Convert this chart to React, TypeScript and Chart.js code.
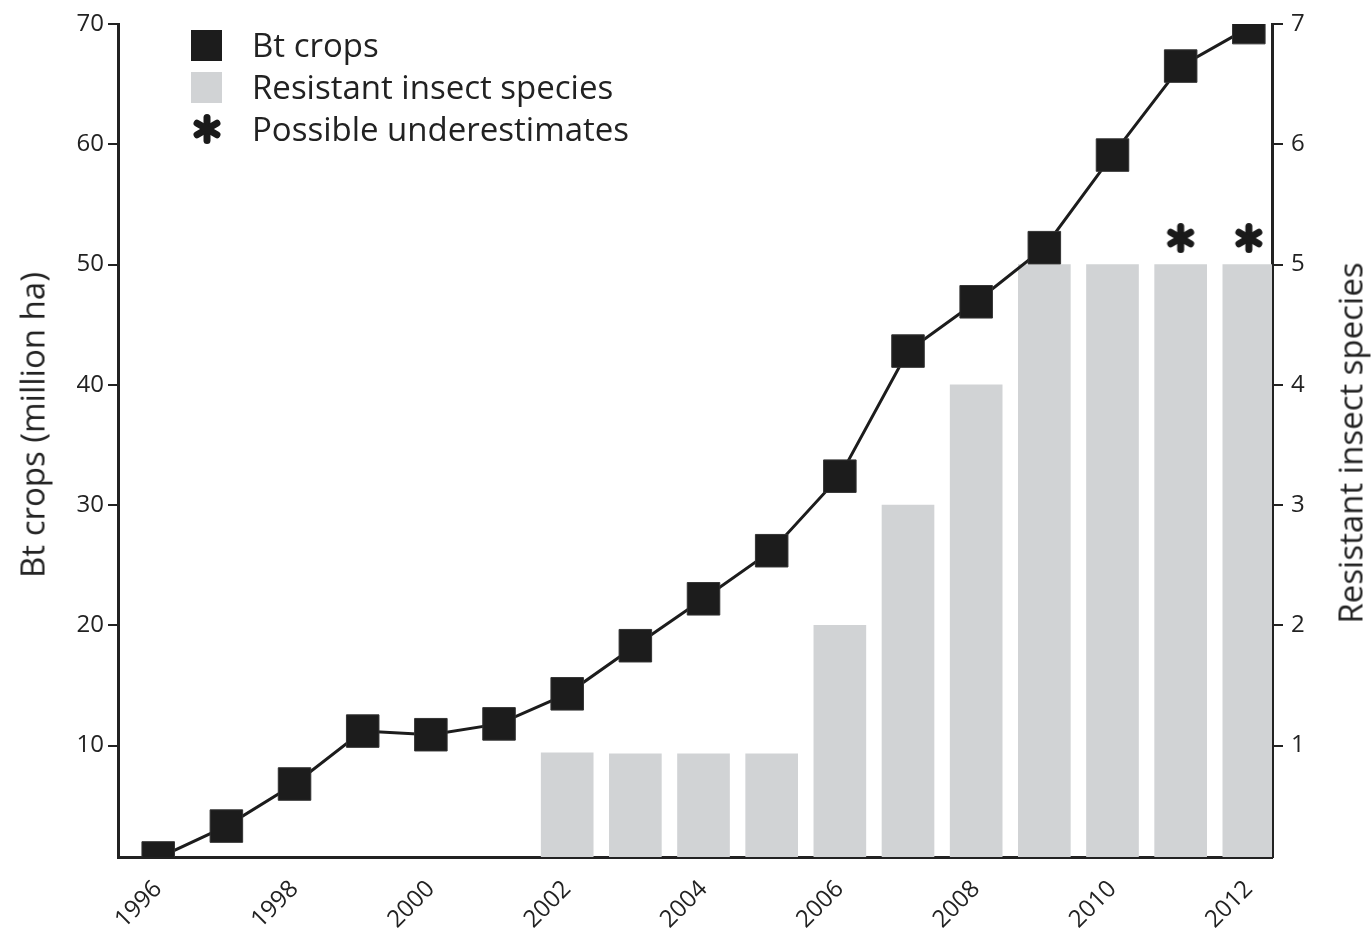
import React, { useEffect, useRef } from "react";
import { Chart, registerables } from "chart.js";

Chart.register(...registerables);

const years = [1996, 1997, 1998, 1999, 2000, 2001, 2002, 2003, 2004, 2005, 2006, 2007, 2008, 2009, 2010, 2011, 2012];
const btCrops = [0.65, 3.3, 6.8, 11.2, 10.9, 11.8, 14.3, 18.3, 22.2, 26.2, 32.4, 42.8, 46.9, 51.4, 59.1, 66.5, 69.7];
const resistantYears = [2002, 2003, 2004, 2005, 2006, 2007, 2008, 2009, 2010, 2011, 2012];
const resistantSpecies = [0.94, 0.93, 0.93, 0.93, 2, 3, 4, 5, 5, 5, 5];
const underestimateYears = [2011, 2012];
const underestimateLevel = [5.22, 5.22];
const xTickLabels = [1996, 1998, 2000, 2002, 2004, 2006, 2008, 2010, 2012];
const leftTickValues = [10, 20, 30, 40, 50, 60, 70];
const rightTickValues = [1, 2, 3, 4, 5, 6, 7];

const FONT = "'Open Sans', 'DejaVu Sans', sans-serif";
const INK = "#222222";
const BAR = "#d1d3d5";

function makeAsterisk(size: number, lw: number): HTMLCanvasElement {
  const c = document.createElement("canvas");
  c.width = size;
  c.height = size;
  const ctx = c.getContext("2d")!;
  ctx.strokeStyle = "#1a1a1a";
  ctx.lineWidth = lw;
  ctx.lineCap = "round";
  const r = size / 2 - lw / 2;
  const cx = size / 2;
  const cy = size / 2;
  for (let i = 0; i < 3; i++) {
    const a = Math.PI / 2 + (i * Math.PI) / 3;
    ctx.beginPath();
    ctx.moveTo(cx - r * Math.cos(a), cy - r * Math.sin(a));
    ctx.lineTo(cx + r * Math.cos(a), cy + r * Math.sin(a));
    ctx.stroke();
  }
  return c;
}

function LegendAsterisk() {
  const ref = useRef<HTMLCanvasElement>(null);
  useEffect(() => {
    const c = ref.current;
    if (!c) return;
    const src = makeAsterisk(30, 7);
    const ctx = c.getContext("2d")!;
    ctx.clearRect(0, 0, 30, 30);
    ctx.drawImage(src, 0, 0);
  }, []);
  return <canvas ref={ref} width={30} height={30} style={{ display: "block" }} />;
}

export default function App() {
  const canvasRef = useRef<HTMLCanvasElement>(null);

  useEffect(() => {
    const canvas = canvasRef.current;
    if (!canvas) return;
    const star = makeAsterisk(30, 7);
    const chart = new Chart(canvas, {
      type: "bar",
      data: {
        datasets: [
          {
            type: "line",
            label: "Bt crops",
            data: years.map((y, i) => ({ x: y, y: btCrops[i] })),
            yAxisID: "y",
            borderColor: "#1c1c1c",
            borderWidth: 3,
            pointStyle: "rect",
            pointRadius: 23,
            pointBackgroundColor: "#1c1c1c",
            pointBorderColor: "#333333",
            pointBorderWidth: 1,
            order: 0,
          } as any,
          {
            type: "scatter",
            label: "Possible underestimates",
            data: underestimateYears.map((y, i) => ({ x: y, y: underestimateLevel[i] })),
            yAxisID: "y1",
            pointStyle: star,
            pointRadius: 15,
            order: 1,
          } as any,
          {
            type: "bar",
            label: "Resistant insect species",
            data: resistantYears.map((y, i) => ({ x: y, y: resistantSpecies[i] })),
            yAxisID: "y1",
            backgroundColor: BAR,
            barThickness: 52,
            order: 2,
          } as any,
        ],
      },
      options: {
        responsive: false,
        animation: false,
        layout: { padding: { top: 20, left: 0, right: 0, bottom: 0 } },
        plugins: {
          legend: { display: false },
          tooltip: { enabled: false },
        },
        scales: {
          x: {
            type: "linear",
            offset: false,
            min: 1995.41,
            max: 2012.34,
            grid: { display: false, drawTicks: false, offset: false },
            border: { display: true, color: INK, width: 3 },
            afterBuildTicks: (axis: any) => {
              axis.ticks = xTickLabels.map((v) => ({ value: v }));
            },
            afterFit: (axis: any) => {
              axis.height = 73;
            },
            ticks: {
              autoSkip: false,
              minRotation: 45,
              maxRotation: 45,
              padding: 18,
              color: INK,
              font: { family: FONT, size: 24 },
              callback: (v: any) => String(v),
            },
          },
          y: {
            type: "linear",
            position: "left",
            min: 0.73,
            max: 70,
            grid: { display: true, drawOnChartArea: false, drawTicks: true, tickLength: 10, color: INK, lineWidth: 2 },
            border: { display: true, color: INK, width: 3 },
            afterBuildTicks: (axis: any) => {
              axis.ticks = leftTickValues.map((v) => ({ value: v }));
            },
            afterFit: (axis: any) => {
              axis.width = 118;
            },
            ticks: {
              padding: 4,
              color: INK,
              font: { family: FONT, size: 24, lineHeight: 0.6 },
              callback: (v: any) => String(v),
            },
          },
          y1: {
            type: "linear",
            position: "right",
            min: 0.073,
            max: 7,
            grid: { display: true, drawOnChartArea: false, drawTicks: true, tickLength: 11, color: INK, lineWidth: 2 },
            border: { display: true, color: INK, width: 3 },
            afterBuildTicks: (axis: any) => {
              axis.ticks = rightTickValues.map((v) => ({ value: v }));
            },
            afterFit: (axis: any) => {
              axis.width = 99;
            },
            ticks: {
              padding: 8,
              color: INK,
              font: { family: FONT, size: 24, lineHeight: 0.6 },
              callback: (v: any) => String(v),
            },
          },
        },
      } as any,
    });
    return () => chart.destroy();
  }, []);

  const legendText: React.CSSProperties = {
    fontFamily: FONT,
    fontSize: 33,
    color: INK,
    lineHeight: "42px",
    whiteSpace: "nowrap",
  };

  return (
    <div style={{ position: "fixed", left: 0, top: 0, width: 1371, height: 930, background: "#fff", overflow: "hidden" }}>
      <canvas ref={canvasRef} width={1371} height={930} style={{ position: "absolute", left: 0, top: 0 }} />
      <div style={{ position: "absolute", left: 191, top: 24 }}>
        <div style={{ display: "flex", alignItems: "center", height: 42 }}>
          <div style={{ width: 31, height: 31, background: "#1c1c1c", marginRight: 30 }} />
          <span style={legendText}>Bt crops</span>
        </div>
        <div style={{ display: "flex", alignItems: "center", height: 42 }}>
          <div style={{ width: 31, height: 31, background: BAR, marginRight: 30 }} />
          <span style={legendText}>Resistant insect species</span>
        </div>
        <div style={{ display: "flex", alignItems: "center", height: 42 }}>
          <div style={{ width: 31, height: 31, marginRight: 30, display: "flex", alignItems: "center", justifyContent: "center" }}>
            <LegendAsterisk />
          </div>
          <span style={legendText}>Possible underestimates</span>
        </div>
      </div>
      <div
        style={{
          position: "absolute",
          left: 32,
          top: 425,
          transform: "translate(-50%, -50%) rotate(-90deg)",
          fontFamily: FONT,
          fontSize: 33,
          color: INK,
          whiteSpace: "nowrap",
        }}
      >
        Bt crops (million ha)
      </div>
      <div
        style={{
          position: "absolute",
          left: 1350,
          top: 443,
          transform: "translate(-50%, -50%) rotate(-90deg)",
          fontFamily: FONT,
          fontSize: 33,
          color: INK,
          whiteSpace: "nowrap",
        }}
      >
        Resistant insect species
      </div>
    </div>
  );
}
